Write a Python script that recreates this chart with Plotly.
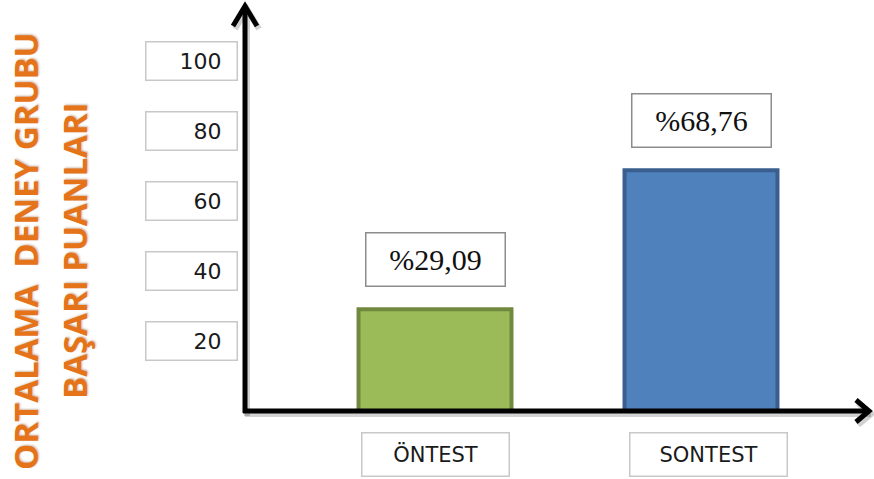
import plotly.graph_objects as go

# Data
categories = ["ÖNTEST", "SONTEST"]
scores = [29.09, 68.76]
score_labels = ["%29,09", "%68,76"]
tick_values = [20, 40, 60, 80, 100]
tick_labels = ["20", "40", "60", "80", "100"]
title_lines = ["ORTALAMA\u00a0 DENEY GRUBU", "BAŞARI PUANLARI"]

W, H = 874, 479
fill_colors = ["#9BBB59", "#4F81BD"]
edge_colors = ["#71893F", "#3A5F8E"]

fig = go.Figure()
fig.add_trace(go.Bar(
    x=[0, 1], y=scores, width=0.575,
    marker=dict(color=fill_colors, line=dict(color=edge_colors, width=4)),
    hoverinfo="skip",
))

# px helpers for decorations in paper space
def px(x):
    return x / W

def py(y):
    return 1 - y / H

shapes = []
# axis lines with soft shadow
ax_col = "#000000"
for dx, dy, col, w in [(2, 3, "rgba(0,0,0,0.18)", 6), (0, 0, ax_col, 5)]:
    # vertical axis
    shapes.append(dict(type="line", xref="paper", yref="paper",
                       x0=px(245 + dx), y0=py(413 + dy), x1=px(245 + dx), y1=py(6 + dy),
                       line=dict(color=col, width=w)))
    shapes.append(dict(type="path", xref="paper", yref="paper",
                       path=f"M {px(233+dx)} {py(26+dy)} L {px(245+dx)} {py(6+dy)} L {px(257+dx)} {py(26+dy)}",
                       line=dict(color=col, width=w)))
    # horizontal axis
    shapes.append(dict(type="line", xref="paper", yref="paper",
                       x0=px(243 + dx), y0=py(411 + dy), x1=px(869 + dx), y1=py(411 + dy),
                       line=dict(color=col, width=w)))
    shapes.append(dict(type="path", xref="paper", yref="paper",
                       path=f"M {px(856+dx)} {py(400+dy)} L {px(869+dx)} {py(411+dy)} L {px(856+dx)} {py(422+dy)}",
                       line=dict(color=col, width=w)))

annotations = []
# boxed tick labels on the value axis
for v, t in zip(tick_values, tick_labels):
    annotations.append(dict(
        xref="paper", yref="y", x=px(191), y=v, xanchor="center", yanchor="middle",
        text=t + "\u00a0\u00a0", showarrow=False,
        width=88, height=35, align="right", borderpad=1,
        bordercolor="#C8C8C8", borderwidth=1.5, bgcolor="white",
        font=dict(family="DejaVu Sans", size=22, color="#1a1a1a"),
    ))

# boxed category labels under the bars
for i, c in enumerate(categories):
    annotations.append(dict(
        xref="x", yref="paper", x=i, y=py(454), xanchor="center", yanchor="middle",
        xshift=0 if i == 0 else 7,
        text=c, showarrow=False,
        width=144 if i == 0 else 154, height=40, align="center",
        bordercolor="#C8C8C8", borderwidth=1.5, bgcolor="white",
        font=dict(family="DejaVu Sans", size=21, color="#1a1a1a"),
    ))

# boxed value labels above the bars
for i, (v, lab) in enumerate(zip(scores, score_labels)):
    annotations.append(dict(
        xref="x", yref="y", x=i, y=v, text=lab, showarrow=False,
        xanchor="center", yanchor="bottom", yshift=22,
        width=136, height=50, align="center",
        bordercolor="#8C8C8C", borderwidth=1.5, bgcolor="white",
        font=dict(family="Liberation Serif", size=30, color="#111111"),
    ))

# vertical axis title, two lines
for xpix, line in zip([25, 74], title_lines):
    annotations.append(dict(
        xref="paper", yref="paper", x=px(xpix), y=py(251), text=f"<b>{line}</b>",
        showarrow=False, textangle=-90, xanchor="center", yanchor="middle",
        font=dict(family="Open Sans", size=33, color="#E5731A",
                  shadow="1px 1px 2px rgba(120,60,0,0.35)"),
    ))

scale = 3.5      # px per unit
base_px = 411    # pixel row of zero
y_max = base_px / scale
y_min = -(H - base_px) / scale
x_unit = 266
x_min = -435 / x_unit
x_max = (W - 435) / x_unit

fig.update_layout(
    width=W, height=H,
    margin=dict(l=0, r=0, t=0, b=0),
    paper_bgcolor="white", plot_bgcolor="white",
    showlegend=False,
    xaxis=dict(range=[x_min, x_max], visible=False, fixedrange=True),
    yaxis=dict(range=[y_min, y_max], visible=False, fixedrange=True),
    shapes=shapes,
    annotations=annotations,
)

fig.write_html("out.html")
